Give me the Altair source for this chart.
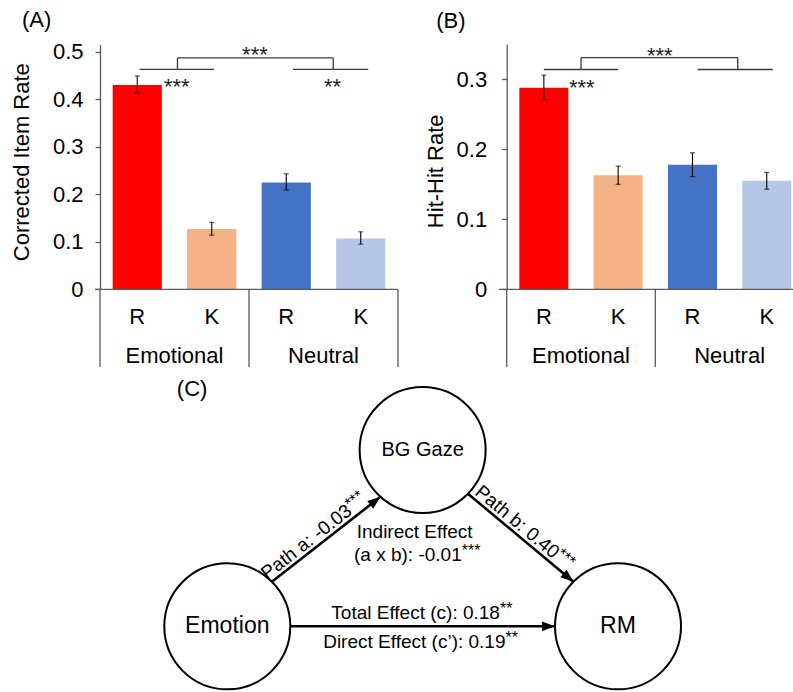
import math
import altair as alt
import pandas as pd

FONT = "Liberation Sans"
W, H = 793, 692
AXIS_GRAY = "#595959"
LINE_DARK = "#3a3a3a"

# ---------------- data ----------------
conditions = ["Emotional", "Emotional", "Neutral", "Neutral"]
responses = ["R", "K", "R", "K"]
bar_ids = [c + " " + r for c, r in zip(conditions, responses)]
bar_colors = ["#FF0000", "#F4B183", "#4472C4", "#B4C7E7"]
group_names = ["Emotional", "Neutral"]
group_slots = [1, 3]
separator_slots = [0, 2, 4]

# Panel A: corrected item rate
a_values = [0.430, 0.127, 0.225, 0.107]
a_err_lo = [0.413, 0.114, 0.209, 0.095]
a_err_hi = [0.449, 0.141, 0.243, 0.121]
a_ticks = [0, 0.1, 0.2, 0.3, 0.4, 0.5]
# significance bracket segments (slot units on x, rate units on y)
a_seg_x0 = [0.53, 2.59, 1.04, 1.04, 3.13]
a_seg_x1 = [1.53, 3.60, 1.04, 3.13, 3.13]
a_seg_y0 = [0.463, 0.463, 0.463, 0.487, 0.463]
a_seg_y1 = [0.463, 0.463, 0.487, 0.487, 0.487]
a_star_text = ["***", "***", "**"]
a_star_x = [2.08, 1.03, 3.12]
a_star_y = [0.493, 0.426, 0.426]

# Panel B: hit-hit rate
b_values = [0.288, 0.163, 0.178, 0.155]
b_err_lo = [0.271, 0.150, 0.161, 0.143]
b_err_hi = [0.306, 0.176, 0.195, 0.167]
b_ticks = [0, 0.1, 0.2, 0.3]
b_seg_x0 = [0.50, 2.57, 1.00, 1.00, 3.11]
b_seg_x1 = [1.50, 3.58, 1.00, 3.11, 3.11]
b_seg_y0 = [0.314, 0.314, 0.314, 0.331, 0.314]
b_seg_y1 = [0.314, 0.314, 0.331, 0.331, 0.331]
b_star_text = ["***", "***"]
b_star_x = [2.06, 1.01]
b_star_y = [0.333, 0.288]

# Panel C: mediation diagram
node_names = ["Emotion", "BG Gaze", "RM"]
node_x = [0, 1, 2]
node_y = [0, 1, 0]
node_font = [23, 20, 23]
edge_src = [0, 1, 0]
edge_dst = [1, 2, 2]
edge_out_deg = [45, 316, 0]
edge_in_deg = [228, 135, 180]
label_edge = [0, 1, 2, 2]
label_main = ["Path a: -0.03", "Path b: 0.40", "Total Effect (c): 0.18", "Direct Effect (c\u2019): 0.19"]
label_sup = ["***", "***", "**", "**"]
label_frac = [0.77, 0.78, 0.792, 0.813]
label_off = [4, 4, 7.5, -21.5]
indirect_title = "Indirect Effect"
indirect_pos = (0.959, 0.499)
indirect_main = "(a x b): -0.01"
indirect_sup = "***"
indirect_pos2 = (1.20, 0.372)

# ---------------- layout (scale ranges in pixels) ----------------
CAT_BOTTOM = 367.0
A_X = [100.0, 398.0]
A_Y = [289.3, 44.6]
A_YMAX = 0.515
B_X = [506.7, 803.9]
B_Y = [289.3, 44.3]
B_YMAX = 0.35

CXD, CXR = [0, 2], [227.3, 618.0]
CYD, CYR = [0, 1], [626.3, 450.0]
NODE_R = 63.0


def lin(domain, rng):
    return alt.Scale(domain=domain, range=rng, nice=False, zero=False)


def bar_panel(values, lo, hi, ticks, y_max, x_rng, y_rng, y_title, title_x, title_y,
              label_pad, panel_text, panel_x, panel_y, seg, stars, base_start):
    x0 = x_rng[0]
    xband = alt.Scale(domain=bar_ids, range=x_rng, paddingInner=0.34, paddingOuter=0.17)
    yscale = lin([0, y_max], y_rng)
    slot = lin([0, 4], x_rng)
    row = lin([0, 1], [y_rng[0], CAT_BOTTOM])

    yaxis = alt.Axis(
        orient="left", offset=-x0, values=ticks, grid=False,
        labelExpr="datum.value == 0 ? '0' : format(datum.value, '.1f')",
        labelFont=FONT, labelFontSize=22, labelColor="black", labelPadding=label_pad,
        tickSize=5, tickColor=AXIS_GRAY, tickWidth=1.3,
        domainColor=AXIS_GRAY, domainWidth=1.3,
        title=y_title, titleFont=FONT, titleFontSize=22, titleFontWeight="normal",
        titleColor="black", titleAngle=270, titleAlign="center", titleBaseline="middle",
        titleX=title_x - x0, titleY=title_y,
    )
    xaxis = alt.Axis(
        orient="bottom", offset=y_rng[0] - H, domain=False, ticks=False, tickSize=0,
        labelExpr="split(datum.value, ' ')[1]", labelAngle=0,
        labelFont=FONT, labelFontSize=22, labelColor="black", labelPadding=17, title=None,
    )

    df = pd.DataFrame({"id": bar_ids, "value": values, "lo": lo, "hi": hi})
    layers = []
    layers.append(alt.Chart(df).mark_bar().encode(
        x=alt.X("id:N", scale=xband, axis=xaxis),
        y=alt.Y("value:Q", scale=yscale, axis=yaxis),
        color=alt.Color("id:N", scale=alt.Scale(domain=bar_ids, range=bar_colors), legend=None),
    ))
    layers.append(alt.Chart(df).mark_rule(color="black", strokeWidth=1.1).encode(
        x=alt.X("id:N", scale=xband, axis=None),
        y=alt.Y("lo:Q", scale=yscale, axis=None),
        y2="hi:Q",
    ))
    caps = pd.DataFrame({"id": bar_ids + bar_ids, "v": list(lo) + list(hi)})
    layers.append(alt.Chart(caps).mark_tick(color="black", thickness=1.1, size=5).encode(
        x=alt.X("id:N", scale=xband, axis=None),
        y=alt.Y("v:Q", scale=yscale, axis=None),
    ))
    # baseline of the category box
    base = pd.DataFrame({"s0": [base_start], "s1": [4], "r": [0]})
    layers.append(alt.Chart(base).mark_rule(color=AXIS_GRAY, strokeWidth=1.3).encode(
        x=alt.X("s0:Q", scale=slot, axis=None), x2="s1:Q",
        y=alt.Y("r:Q", scale=row, axis=None),
    ))
    sep = pd.DataFrame({"s": separator_slots, "r0": [0] * 3, "r1": [1] * 3})
    layers.append(alt.Chart(sep).mark_rule(color=AXIS_GRAY, strokeWidth=1.3).encode(
        x=alt.X("s:Q", scale=slot, axis=None),
        y=alt.Y("r0:Q", scale=row, axis=None), y2="r1:Q",
    ))
    grp = pd.DataFrame({"g": group_names, "s": group_slots, "r": [0.852, 0.852]})
    layers.append(alt.Chart(grp).mark_text(font=FONT, fontSize=22, color="black",
                                           align="center", baseline="middle").encode(
        x=alt.X("s:Q", scale=slot, axis=None),
        y=alt.Y("r:Q", scale=row, axis=None),
        text="g:N",
    ))
    sdf = pd.DataFrame({"x0": seg[0], "x1": seg[1], "y0": seg[2], "y1": seg[3]})
    layers.append(alt.Chart(sdf).mark_rule(color=LINE_DARK, strokeWidth=1.3).encode(
        x=alt.X("x0:Q", scale=slot, axis=None), x2="x1:Q",
        y=alt.Y("y0:Q", scale=yscale, axis=None), y2="y1:Q",
    ))
    stdf = pd.DataFrame({"t": stars[0], "x": stars[1], "y": stars[2]})
    layers.append(alt.Chart(stdf).mark_text(font=FONT, fontSize=22, color="#222222",
                                            align="center", baseline="middle").encode(
        x=alt.X("x:Q", scale=slot, axis=None),
        y=alt.Y("y:Q", scale=yscale, axis=None),
        text="t:N",
    ))
    pdf = pd.DataFrame({"t": [panel_text], "x": [panel_x], "y": [panel_y]})
    layers.append(alt.Chart(pdf).mark_text(font=FONT, fontSize=22, color="black",
                                           align="center", baseline="middle").encode(
        x=alt.X("x:Q", scale=slot, axis=None),
        y=alt.Y("y:Q", scale=yscale, axis=None),
        text="t:N",
    ))
    return layers


layers = []
layers += bar_panel(a_values, a_err_lo, a_err_hi, a_ticks, A_YMAX, A_X, A_Y,
                    "Corrected Item Rate", 21.9, 161.7, 12, "(A)", -0.85, 0.566,
                    (a_seg_x0, a_seg_x1, a_seg_y0, a_seg_y1),
                    (a_star_text, a_star_x, a_star_y), -0.067)
layers += bar_panel(b_values, b_err_lo, b_err_hi, b_ticks, B_YMAX, B_X, B_Y,
                    "Hit-Hit Rate", 435.9, 170.8, 15, "(B)", -0.752, 0.384,
                    (b_seg_x0, b_seg_x1, b_seg_y0, b_seg_y1),
                    (b_star_text, b_star_x, b_star_y), -0.104)

# ---------------- panel C geometry ----------------
px_x = (CXR[1] - CXR[0]) / (CXD[1] - CXD[0])
px_y = (CYR[0] - CYR[1]) / (CYD[1] - CYD[0])


def to_px(x, y):
    return CXR[0] + (x - CXD[0]) * px_x, CYR[0] - (y - CYD[0]) * px_y


def to_data(px, py):
    return CXD[0] + (px - CXR[0]) / px_x, CYD[0] + (CYR[0] - py) / px_y


cx = lin(CXD, CXR)
cy = lin(CYD, CYR)

edges = []
for s, d, ao, ai in zip(edge_src, edge_dst, edge_out_deg, edge_in_deg):
    sx, sy = to_px(node_x[s], node_y[s])
    dx, dy = to_px(node_x[d], node_y[d])
    spx = (sx + NODE_R * math.cos(math.radians(ao)), sy - NODE_R * math.sin(math.radians(ao)))
    epx = (dx + NODE_R * math.cos(math.radians(ai)), dy - NODE_R * math.sin(math.radians(ai)))
    ang = math.degrees(math.atan2(epx[1] - spx[1], epx[0] - spx[0])) % 360
    edges.append((spx, epx, ang))

edge_df = pd.DataFrame({
    "x0": [to_data(*e[0])[0] for e in edges], "y0": [to_data(*e[0])[1] for e in edges],
    "x1": [to_data(*e[1])[0] for e in edges], "y1": [to_data(*e[1])[1] for e in edges],
    "ang": [e[2] for e in edges],
})

lab_x, lab_y, lab_ang = [], [], []
for ei, t, off in zip(label_edge, label_frac, label_off):
    (sx, sy), (ex, ey), ang = edges[ei]
    phi = math.radians(ang)
    jx = sx + t * (ex - sx) + off * math.sin(phi)
    jy = sy + t * (ey - sy) - off * math.cos(phi)
    dxv, dyv = to_data(jx, jy)
    lab_x.append(dxv)
    lab_y.append(dyv)
    lab_ang.append(ang)
lab_x.append(indirect_pos2[0])
lab_y.append(indirect_pos2[1])
lab_ang.append(0)
lab_df = pd.DataFrame({
    "main": label_main + [indirect_main],
    "sup": label_sup + [indirect_sup],
    "x": lab_x, "y": lab_y, "ang": lab_ang,
})

nodes_df = pd.DataFrame({"name": node_names, "x": node_x, "y": node_y, "fs": node_font})

layers.append(alt.Chart(nodes_df).mark_point(
    shape="circle", size=(2 * NODE_R) ** 2, filled=False, color="black",
    strokeWidth=2, opacity=1).encode(
    x=alt.X("x:Q", scale=cx, axis=None),
    y=alt.Y("y:Q", scale=cy, axis=None),
))
layers.append(alt.Chart(nodes_df).mark_text(font=FONT, color="black", align="center",
                                            baseline="middle").encode(
    x=alt.X("x:Q", scale=cx, axis=None),
    y=alt.Y("y:Q", scale=cy, axis=None),
    text="name:N",
    size=alt.Size("fs:Q", scale=None),
))
layers.append(alt.Chart(edge_df).mark_rule(color="black", strokeWidth=2.6).encode(
    x=alt.X("x0:Q", scale=cx, axis=None), x2="x1:Q",
    y=alt.Y("y0:Q", scale=cy, axis=None), y2="y1:Q",
))
layers.append(alt.Chart(edge_df).mark_point(
    shape="M0,0L-2,-0.75L-2,0.75Z", size=169, filled=True, color="black",
    opacity=1, strokeWidth=0).encode(
    x=alt.X("x1:Q", scale=cx, axis=None),
    y=alt.Y("y1:Q", scale=cy, axis=None),
    angle=alt.Angle("ang:Q", scale=None),
))
layers.append(alt.Chart(lab_df).mark_text(font=FONT, fontSize=19, color="black",
                                          align="right", baseline="alphabetic").encode(
    x=alt.X("x:Q", scale=cx, axis=None),
    y=alt.Y("y:Q", scale=cy, axis=None),
    text="main:N",
    angle=alt.Angle("ang:Q", scale=None),
))
layers.append(alt.Chart(lab_df).mark_text(font=FONT, fontSize=16, color="black",
                                          align="left", baseline="alphabetic", dy=-5).encode(
    x=alt.X("x:Q", scale=cx, axis=None),
    y=alt.Y("y:Q", scale=cy, axis=None),
    text="sup:N",
    angle=alt.Angle("ang:Q", scale=None),
))
free_df = pd.DataFrame({"t": [indirect_title, "(C)"], "x": [indirect_pos[0], -0.18],
                        "y": [indirect_pos[1], 1.306], "fs": [19, 22]})
layers.append(alt.Chart(free_df).mark_text(font=FONT, color="black", align="center",
                                           baseline="alphabetic").encode(
    x=alt.X("x:Q", scale=cx, axis=None),
    y=alt.Y("y:Q", scale=cy, axis=None),
    text="t:N",
    size=alt.Size("fs:Q", scale=None),
))

chart = alt.layer(*layers).resolve_scale(
    x="independent", y="independent"
).properties(
    width=W, height=H, padding=0, autosize=alt.AutoSizeParams(type="none"),
    background="white",
).configure_view(stroke=None)

chart.save("out.html", embed_options={"renderer": "svg", "actions": False})
